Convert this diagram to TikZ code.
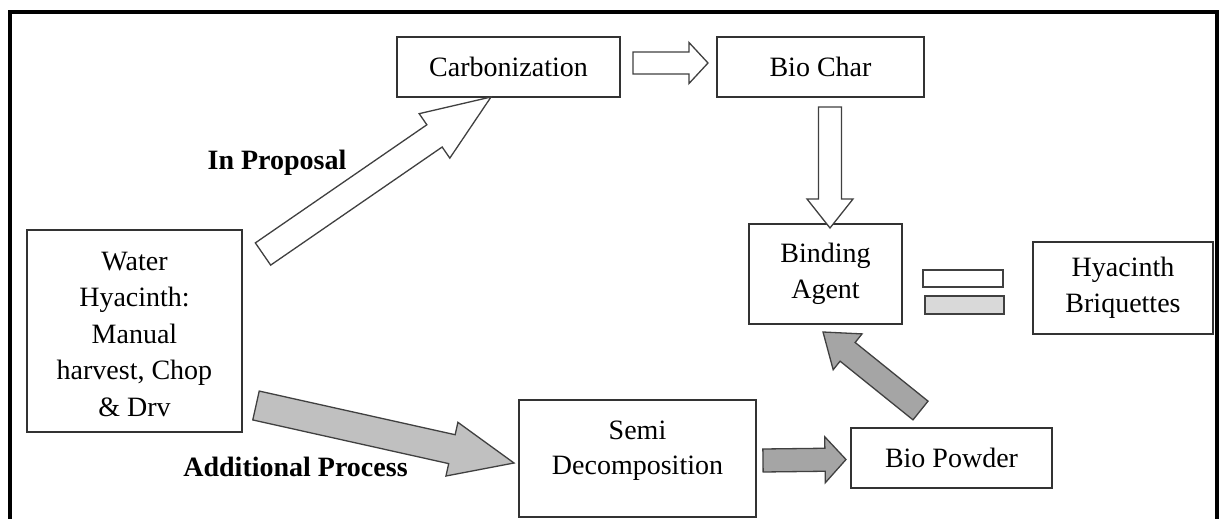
\documentclass[tikz,border=0pt]{standalone}
\usepackage{fontspec}
\setmainfont{Liberation Serif}
\usetikzlibrary{calc}
\definecolor{boxc}{HTML}{333333}
\definecolor{arrc}{HTML}{404040}
\definecolor{grayA}{HTML}{C0C0C0}
\definecolor{grayB}{HTML}{A5A5A5}
\definecolor{grayC}{HTML}{D9D9D9}
\newcommand\blockarrow[6]{%
  \coordinate (bab) at ($(#2)!#5!(#1)$);
  \draw[#6] ($(#1)!#3!90:(#2)$) -- ($(bab)!#3!90:(#2)$) -- ($(bab)!#4!90:(#2)$) -- (#2)
    -- ($(bab)!#4!-90:(#2)$) -- ($(bab)!#3!-90:(#2)$) -- ($(#1)!#3!-90:(#2)$) -- cycle;}
\tikzset{
  box/.style={draw=boxc, line width=1.8pt, fill=white, inner sep=0pt, align=center,
    font=\fontsize{28}{35.5}\selectfont},
  lbl/.style={inner sep=0pt, align=center, font=\fontsize{28}{35.5}\selectfont\bfseries},
  txt/.style={inner sep=0pt, align=center, font=\fontsize{28}{35.5}\selectfont},
  warrow/.style={draw=arrc, line width=1.3pt, fill=white, line join=miter},
  garrow/.style={draw=arrc, line width=1.3pt, fill=grayA, line join=miter},
  darrow/.style={draw=arrc, line width=1.3pt, fill=grayB, line join=miter},
  eqbar/.style={draw=arrc, line width=1.5pt}
}
\begin{document}
\begin{tikzpicture}[x=1pt,y=-1pt]
\useasboundingbox (0,0) rectangle (1221,519);
\fill[white] (0,0) rectangle (1221,519);
% outer frame
\draw[line width=4pt] (10,519) -- (10,12) -- (1217,12) -- (1217,519);
% boxes
\node[box, minimum width=223pt, minimum height=60pt] (carb) at (508.5,67) {Carbonization};
\node[box, minimum width=207pt, minimum height=60pt] (biochar) at (820.5,67) {Bio Char};
\node[box, minimum width=153pt, minimum height=100pt] (binding) at (825.5,274) {Binding\\Agent};
\node[box, minimum width=180pt, minimum height=92pt] (briq) at (1123,288) {Hyacinth\\Briquettes};
\node[box, minimum width=215pt, minimum height=202pt] (water) at (134.5,331) {};
\node[txt, font=\fontsize{28}{36.5}\selectfont] (watertext) at ([yshift=-3pt]water.center)
  {Water\\Hyacinth:\\Manual\\harvest, Chop\\\& Drv};
\node[box, minimum width=237pt, minimum height=117pt] (semi) at (637.5,458.5) {};
\node[txt] (semitext) at ([yshift=8pt]semi.center) {Semi\\Decomposition};
\node[box, minimum width=201pt, minimum height=60pt] (powder) at (951.5,458) {Bio Powder};
% labels
\node[lbl] (inprop) at (277,163) {In Proposal};
\node[lbl] (addproc) at (295.5,467) {Additional Process};
% equals sign
\draw[eqbar, fill=white] (923,270) rectangle (1003,287);
\draw[eqbar, fill=grayC] (925,296) rectangle (1004,314);
% arrow end points
\coordinate (a1t) at (263,254);   \coordinate (a1h) at (491,97);
\coordinate (a2t) at (256,405.5); \coordinate (a2h) at (514,463);
\coordinate (a3t) at (633,63);    \coordinate (a3h) at (708,63);
\coordinate (a4t) at (830,107);   \coordinate (a4h) at (830,228);
\coordinate (a5t) at (763,460.5); \coordinate (a5h) at (846,459.5);
\coordinate (a6t) at (920.5,410.5); \coordinate (a6h) at (823,332);
% block arrows
\blockarrow{a1t}{a1h}{13.5pt}{27pt}{68.6pt}{warrow}
\blockarrow{a2t}{a2h}{14.8pt}{27.5pt}{63.6pt}{garrow}
\blockarrow{a3t}{a3h}{11pt}{20.5pt}{19pt}{warrow}
\blockarrow{a4t}{a4h}{11.5pt}{23pt}{29pt}{warrow}
\blockarrow{a5t}{a5h}{11.5pt}{23pt}{21pt}{darrow}
\blockarrow{a6t}{a6h}{12pt}{23pt}{31.6pt}{darrow}
\end{tikzpicture}
\end{document}
